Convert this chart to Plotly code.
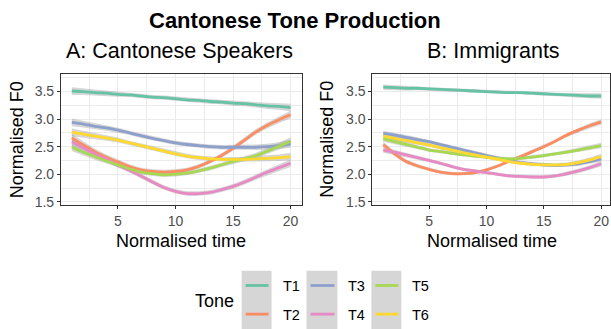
import plotly.graph_objects as go

W, H = 611, 329

time = list(range(1, 21))
tones = ["T1", "T2", "T3", "T4", "T5", "T6"]
colors = ["#66C2A5", "#FC8D62", "#8DA0CB", "#E78AC3", "#A6D854", "#FFD92F"]

# Panel A: Cantonese Speakers (smoothed normalised F0)
a_T1 = [3.51, 3.50, 3.48, 3.47, 3.45, 3.44, 3.42, 3.40, 3.39, 3.37, 3.35, 3.34, 3.32, 3.31, 3.29, 3.28, 3.26, 3.24, 3.23, 3.21]
a_T2 = [2.66, 2.53, 2.41, 2.31, 2.22, 2.14, 2.08, 2.05, 2.04, 2.05, 2.08, 2.14, 2.23, 2.34, 2.47, 2.62, 2.77, 2.89, 2.99, 3.08]
a_T3 = [2.94, 2.91, 2.87, 2.84, 2.80, 2.75, 2.70, 2.65, 2.61, 2.57, 2.54, 2.52, 2.50, 2.49, 2.49, 2.49, 2.49, 2.50, 2.52, 2.55]
a_T4 = [2.59, 2.48, 2.37, 2.27, 2.17, 2.07, 1.97, 1.86, 1.76, 1.69, 1.65, 1.65, 1.67, 1.72, 1.78, 1.86, 1.95, 2.04, 2.12, 2.20]
a_T5 = [2.49, 2.40, 2.32, 2.24, 2.17, 2.10, 2.04, 2.01, 1.99, 2.00, 2.02, 2.06, 2.11, 2.17, 2.23, 2.28, 2.34, 2.42, 2.51, 2.60]
a_T6 = [2.76, 2.73, 2.69, 2.66, 2.62, 2.57, 2.52, 2.47, 2.42, 2.37, 2.33, 2.30, 2.28, 2.27, 2.27, 2.27, 2.28, 2.29, 2.30, 2.32]
a_band = [0.07, 0.06, 0.055, 0.05, 0.045, 0.04, 0.04, 0.04, 0.04, 0.04, 0.04, 0.04, 0.04, 0.04, 0.045, 0.045, 0.05, 0.055, 0.06, 0.07]

# Panel B: Immigrants
b_T1 = [3.58, 3.57, 3.56, 3.56, 3.55, 3.54, 3.53, 3.52, 3.51, 3.50, 3.49, 3.48, 3.48, 3.47, 3.46, 3.45, 3.44, 3.43, 3.42, 3.42]
b_T2 = [2.54, 2.37, 2.23, 2.15, 2.09, 2.04, 2.01, 2.01, 2.03, 2.08, 2.15, 2.24, 2.32, 2.41, 2.50, 2.60, 2.71, 2.80, 2.88, 2.95]
b_T3 = [2.74, 2.71, 2.67, 2.63, 2.59, 2.54, 2.49, 2.44, 2.39, 2.34, 2.29, 2.25, 2.21, 2.19, 2.17, 2.16, 2.17, 2.19, 2.23, 2.28]
b_T4 = [2.44, 2.40, 2.35, 2.30, 2.25, 2.20, 2.14, 2.09, 2.06, 2.03, 2.00, 1.97, 1.96, 1.95, 1.95, 1.97, 2.01, 2.06, 2.12, 2.19]
b_T5 = [2.64, 2.59, 2.54, 2.49, 2.44, 2.41, 2.38, 2.35, 2.33, 2.31, 2.29, 2.28, 2.29, 2.31, 2.34, 2.37, 2.40, 2.44, 2.48, 2.52]
b_T6 = [2.69, 2.65, 2.61, 2.57, 2.53, 2.48, 2.44, 2.39, 2.35, 2.31, 2.27, 2.23, 2.20, 2.18, 2.17, 2.17, 2.18, 2.21, 2.26, 2.32]
b_band = [0.05, 0.045, 0.04, 0.035, 0.03, 0.03, 0.03, 0.03, 0.03, 0.03, 0.03, 0.03, 0.03, 0.03, 0.03, 0.03, 0.035, 0.04, 0.045, 0.05]

panel_a = [a_T1, a_T2, a_T3, a_T4, a_T5, a_T6]
panel_b = [b_T1, b_T2, b_T3, b_T4, b_T5, b_T6]

x_ticks = [5, 10, 15, 20]
y_ticks = [1.5, 2.0, 2.5, 3.0, 3.5]
y_tick_text = ["1.5", "2.0", "2.5", "3.0", "3.5"]

FONT = "Liberation Sans, Arial, sans-serif"

fig = go.Figure()

def add_panel(series, band, xa, ya):
    for s in series:
        up = [v + b for v, b in zip(s, band)]
        lo = [v - b for v, b in zip(s, band)]
        fig.add_trace(go.Scatter(x=time + time[::-1], y=up + lo[::-1], fill="toself",
                                 fillcolor="rgba(153,153,153,0.4)", line=dict(width=0),
                                 mode="lines", showlegend=False, hoverinfo="skip",
                                 xaxis=xa, yaxis=ya))
    for s, name, c in zip(series, tones, colors):
        fig.add_trace(go.Scatter(x=time, y=s, mode="lines", name=name,
                                 line=dict(color=c, width=2.8, shape="spline"),
                                 showlegend=False, xaxis=xa, yaxis=ya))

add_panel(panel_a, a_band, "x", "y")
add_panel(panel_b, b_band, "x2", "y2")

def px(x):
    return x / W

def py(y):
    return 1 - y / H

yr = [1.434, 3.817]
ax_common = dict(showline=True, mirror=True, linecolor="#333333", linewidth=1,
                 ticks="outside", ticklen=3, tickcolor="#333333", tickwidth=1,
                 tickfont=dict(size=14, color="#4D4D4D", family=FONT),
                 gridcolor="#EBEBEB", gridwidth=1, zeroline=False)
xcommon = dict(ax_common, tickvals=x_ticks,
               minor=dict(tickvals=[2.5, 7.5, 12.5, 17.5], showgrid=True, gridcolor="#EBEBEB", gridwidth=0.6, ticks=""))
ycommon = dict(ax_common, tickvals=y_ticks, ticktext=y_tick_text, range=yr,
               minor=dict(tickvals=[1.75, 2.25, 2.75, 3.25, 3.75], showgrid=True, gridcolor="#EBEBEB", gridwidth=0.6, ticks=""))

fig.update_layout(
    width=W, height=H,
    margin=dict(l=0, r=0, t=0, b=0),
    paper_bgcolor="white", plot_bgcolor="white",
    showlegend=False,
    font=dict(family=FONT, color="black"),
    xaxis=dict(xcommon, domain=[px(61), px(302)], range=[0.05, 20.95], anchor="y"),
    yaxis=dict(ycommon, domain=[py(208), py(75)], anchor="x"),
    xaxis2=dict(xcommon, domain=[px(373), 1.0], range=[0.05, 20.77], anchor="y2"),
    yaxis2=dict(ycommon, domain=[py(208), py(75)], anchor="x2"),
)

ann = []
def text(x, y, s, size, xanchor="center", angle=0, color="black"):
    ann.append(dict(x=px(x), y=py(y), xref="paper", yref="paper", text=s, showarrow=False,
                    xanchor=xanchor, yanchor="middle", textangle=angle,
                    font=dict(size=size, family=FONT, color=color)))

text(295, 21, "<b>Cantonese Tone Production</b>", 22)
text(180, 52, "A: Cantonese Speakers", 21.5)
text(494, 52, "B: Immigrants", 21.5)
text(181, 244, "Normalised time", 18)
text(493, 244, "Normalised time", 18)
text(17, 141, "Normalised F0", 18, angle=-90)
text(328, 141, "Normalised F0", 18, angle=-90)

# legend
text(193, 305, "Tone", 18, xanchor="left")
shapes = []
boxes = [(242, 272), (307, 338), (372, 402)]
for i, (x0, x1) in enumerate(boxes):
    shapes.append(dict(type="rect", xref="paper", yref="paper", x0=px(x0), x1=px(x1),
                       y0=py(340), y1=py(274), fillcolor="#D6D6D6", line=dict(width=0), layer="below"))
    for j, yy in enumerate([289, 318]):
        k = i * 2 + j
        shapes.append(dict(type="line", xref="paper", yref="paper", x0=px(x0 + 4), x1=px(x1 - 3),
                           y0=py(yy), y1=py(yy), line=dict(color=colors[k], width=2.8)))
        text(x1 + 9, yy + 1, tones[k], 14.5, xanchor="left")

fig.update_layout(annotations=ann, shapes=shapes)
fig.write_html("out.html", config={"displayModeBar": False},
               post_script="document.body.style.margin='0';document.body.style.overflow='hidden';")
